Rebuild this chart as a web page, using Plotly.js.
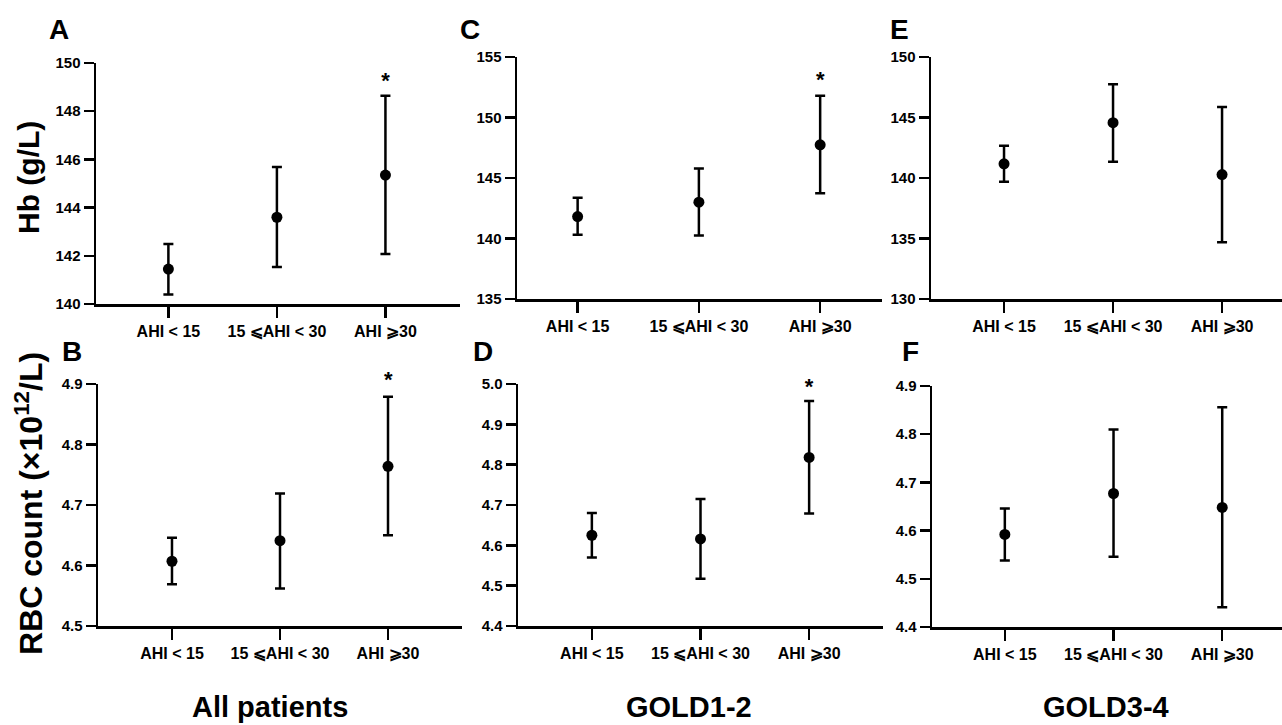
<!DOCTYPE html>
<html>
<head>
<meta charset="utf-8">
<script src="https://cdn.plot.ly/plotly-3.0.1.min.js"></script>
<style>html,body{margin:0;padding:0;background:#fff;}#chart{width:1282px;height:725px;}</style>
</head>
<body>
<div id="chart"></div>
<script>
// ---- data ----
var categories = ["AHI < 15", "15 \u2A7DAHI < 30", "AHI \u2A7E30"];

var hbAllMean  = [141.45, 143.60, 145.35];
var hbAllUpper = [142.49, 145.68, 148.64];
var hbAllLower = [140.39, 141.54, 142.07];

var hbG12Mean  = [141.81, 143.00, 147.74];
var hbG12Upper = [143.36, 145.79, 151.80];
var hbG12Lower = [140.30, 140.24, 143.74];

var hbG34Mean  = [141.17, 144.57, 140.28];
var hbG34Upper = [142.66, 147.74, 145.86];
var hbG34Lower = [139.68, 141.34, 134.69];

var rbcAllMean  = [4.607, 4.641, 4.764];
var rbcAllUpper = [4.646, 4.719, 4.879];
var rbcAllLower = [4.569, 4.562, 4.650];

var rbcG12Mean  = [4.625, 4.616, 4.818];
var rbcG12Upper = [4.680, 4.715, 4.958];
var rbcG12Lower = [4.570, 4.517, 4.679];

var rbcG34Mean  = [4.592, 4.677, 4.648];
var rbcG34Upper = [4.646, 4.810, 4.856];
var rbcG34Lower = [4.538, 4.546, 4.441];

// significance stars (category, y position) for panels A, B, C, D
var starCategory = categories[2];
var starYA = 149.2;
var starYB = 4.907;
var starYC = 153.0;
var starYD = 4.99;

var panelLetters = ["A", "B", "C", "D", "E", "F"];
var groupTitles = ["All patients", "GOLD1-2", "GOLD3-4"];
var hbTitle = "Hb (g/L)";
var rbcTitle = "RBC count (\u00D710<sup>12</sup>/L)";

// ---- build ----
var FONT = "Liberation Sans, Arial, Helvetica, sans-serif";
function diff(a, b) { return a.map(function (v, i) { return +(v - b[i]).toFixed(4); }); }
function trace(mean, upper, lower, ax) {
  return {
    type: "scatter", mode: "markers",
    x: categories, y: mean,
    xaxis: "x" + ax, yaxis: "y" + ax,
    marker: { color: "#000", size: 11 },
    error_y: { type: "data", symmetric: false, array: diff(upper, mean), arrayminus: diff(mean, lower),
               color: "#000", thickness: 2.5, width: 5 },
    showlegend: false, hoverinfo: "skip", cliponaxis: false
  };
}
function starTrace(y, ax) {
  return {
    type: "scatter", mode: "text", x: [starCategory], y: [y], text: ["*"],
    textposition: "middle center", xaxis: "x" + ax, yaxis: "y" + ax,
    textfont: { family: FONT, size: 22, color: "#000", weight: 700 },
    showlegend: false, hoverinfo: "skip", cliponaxis: false
  };
}
var data = [
  trace(hbAllMean, hbAllUpper, hbAllLower, ""),
  trace(rbcAllMean, rbcAllUpper, rbcAllLower, "2"),
  trace(hbG12Mean, hbG12Upper, hbG12Lower, "3"),
  trace(rbcG12Mean, rbcG12Upper, rbcG12Lower, "4"),
  trace(hbG34Mean, hbG34Upper, hbG34Lower, "5"),
  trace(rbcG34Mean, rbcG34Upper, rbcG34Lower, "6"),
  starTrace(starYA, ""), starTrace(starYC, "3"), starTrace(starYD, "4")
];

var W = 1282, H = 725;
function px(x) { return x / W; }
function py(y) { return (H - y) / H; }

function xax(x0, x1, r, anchor) {
  return {
    domain: [px(x0), px(x1)], range: r, anchor: anchor, type: "category",
    showline: true, linewidth: 2.5, linecolor: "#000",
    ticks: "outside", ticklen: 11, tickwidth: 2.5, tickcolor: "#000",
    showgrid: false, zeroline: false,
    tickfont: { family: FONT, size: 16, color: "#000", weight: 700 }
  };
}
function yax(y0, y1, r, dtick, fmt, anchor) {
  return {
    domain: [py(y1), py(y0)], range: r, anchor: anchor, dtick: dtick, tick0: r[0], tickformat: fmt,
    showline: true, linewidth: 2.5, linecolor: "#000",
    ticks: "outside", ticklen: 10, tickwidth: 2.5, tickcolor: "#000",
    showgrid: false, zeroline: false,
    tickfont: { family: FONT, size: 15, color: "#000", weight: 700 }
  };
}

var yRangeB = [4.5, 4.9];
var layout = {
  width: W, height: H,
  margin: { l: 0, r: 0, t: 0, b: 0 },
  paper_bgcolor: "#fff", plot_bgcolor: "rgba(0,0,0,0)",
  showlegend: false, hovermode: false,
  font: { family: FONT, color: "#000" },
  xaxis:  xax(96, 460, [-0.667, 2.687], "y"),
  yaxis:  yax(63, 304, [140, 150], 2, "d", "x"),
  xaxis2: xax(98, 462, [-0.685, 2.685], "y2"),
  yaxis2: yax(384, 626, yRangeB, 0.1, ".1f", "x2"),
  xaxis3: xax(517, 882, [-0.5, 2.51], "y3"),
  yaxis3: yax(57, 299, [135, 155], 5, "d", "x3"),
  xaxis4: xax(518, 883, [-0.68, 2.68], "y4"),
  yaxis4: yax(384, 626, [4.4, 5.0], 0.1, ".1f", "x4"),
  xaxis5: xax(931, 1282, [-0.67, 2.55], "y5"),
  yaxis5: yax(57, 299, [130, 150], 5, "d", "x5"),
  xaxis6: xax(932, 1282, [-0.67, 2.55], "y6"),
  yaxis6: yax(386, 627, [4.4, 4.9], 0.1, ".1f", "x6"),
  annotations: []
};

// panel B star sits just above the axis top, so place it relative to the axis domain
layout.annotations.push({ x: starCategory, xref: "x2",
  y: (starYB - yRangeB[0]) / (yRangeB[1] - yRangeB[0]), yref: "y2 domain",
  text: "*", showarrow: false, xanchor: "center", yanchor: "middle",
  font: { family: FONT, size: 22, color: "#000", weight: 700 } });

var letterPos = [[59, 29], [72, 352], [470, 30], [483, 351], [899, 30], [910, 351]];
panelLetters.forEach(function (t, i) {
  layout.annotations.push({ x: px(letterPos[i][0]), y: py(letterPos[i][1]), xref: "paper", yref: "paper",
    text: t, showarrow: false, xanchor: "center", yanchor: "middle",
    font: { family: FONT, size: 28, color: "#000", weight: 700 } });
});

var groupX = [270, 689, 1106];
groupTitles.forEach(function (t, i) {
  layout.annotations.push({ x: px(groupX[i]), y: py(707), xref: "paper", yref: "paper",
    text: t, showarrow: false, xanchor: "center", yanchor: "middle",
    font: { family: FONT, size: 29, color: "#000", weight: 700 } });
});

layout.annotations.push({ x: px(29), y: py(178), xref: "paper", yref: "paper", text: hbTitle,
  textangle: -90, showarrow: false, xanchor: "center", yanchor: "middle",
  font: { family: FONT, size: 30, color: "#000", weight: 700 } });
layout.annotations.push({ x: px(29), y: py(504), xref: "paper", yref: "paper", text: rbcTitle,
  textangle: -90, showarrow: false, xanchor: "center", yanchor: "middle",
  font: { family: FONT, size: 32, color: "#000", weight: 700 } });

Plotly.newPlot("chart", data, layout, { displayModeBar: false, staticPlot: true });
</script>
</body>
</html>
